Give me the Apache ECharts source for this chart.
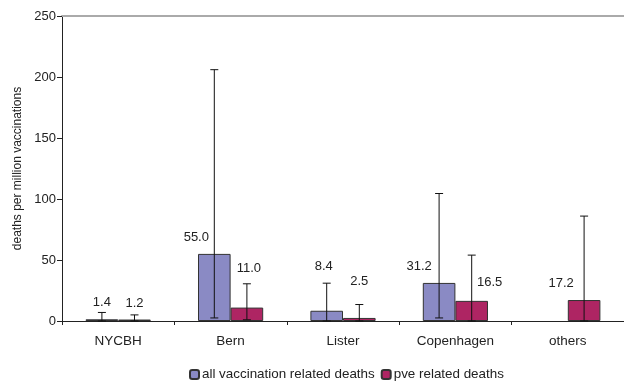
<!DOCTYPE html>
<html><head><meta charset="utf-8">
<script src="https://cdn.jsdelivr.net/npm/echarts@6/dist/echarts.min.js"></script>
<style>html,body{margin:0;padding:0;background:#fff}#c{width:624px;height:381px}</style>
</head><body><div id="c"></div>
<script>
var categories = ['NYCBH', 'Bern', 'Lister', 'Copenhagen', 'others'];
var allDeaths = [1.4, 55.0, 8.4, 31.2, null];
var pveDeaths = [1.2, 11.0, 2.5, 16.5, 17.2];
var allUpper = [7, 206, 31, 104.5, null];
var allLower = [0, 2.5, 0, 2.5, null];
var pveUpper = [5, 30.5, 13.5, 54, 86];
var pveLower = [0, 1, 0, 0, 0];
var yTicks = [0, 50, 100, 150, 200, 250];

// label layout (pixel offsets), kept apart from the data
var allLabelOffset = [[0, -10], [-18, -10], [-3, -38], [-20, -10], [0, 0]];
var pveLabelOffset = [[0, -10], [2, -33], [0, -30], [18, -12], [-23, -10]];

var FONT = 'Liberation Sans, Arial, sans-serif';
var BAR_FRAC = 0.29;

function barData(vals, offs) {
  return vals.map(function (v, i) {
    if (v == null) return null;
    return { value: v, label: { offset: offs[i] } };
  });
}

function errSeries(upper, lower, side) {
  var d = upper.map(function (u, i) { return u == null ? null : [i, lower[i], u]; }).filter(function (x) { return x; });
  return {
    type: 'custom', z: 10,
    data: d,
    encode: { x: 0, y: [1, 2] },
    renderItem: function (params, api) {
      var cat = api.value(0);
      var lo = api.coord([cat, api.value(1)]);
      var hi = api.coord([cat, api.value(2)]);
      var bw = api.size([1, 0])[0] * BAR_FRAC;
      var x = lo[0] + side * bw / 2;
      var cap = 4;
      var st = { stroke: '#111', lineWidth: 1 };
      return { type: 'group', children: [
        { type: 'line', shape: { x1: x, y1: lo[1], x2: x, y2: hi[1] }, style: st },
        { type: 'line', shape: { x1: x - cap, y1: hi[1], x2: x + cap, y2: hi[1] }, style: st },
        { type: 'line', shape: { x1: x - cap, y1: lo[1], x2: x + cap, y2: lo[1] }, style: st }
      ]};
    }
  };
}

var chart = echarts.init(document.getElementById('c'));
chart.setOption({
  animation: false,
  textStyle: { fontFamily: FONT },
  grid: { left: 62, right: -4, top: 16, bottom: 60, containLabel: false },
  legend: {
    left: 184, top: 363, itemWidth: 9, itemHeight: 9, itemGap: 6,
    textStyle: { fontFamily: FONT, fontSize: 13.4, color: '#222', padding: [0, 0, 0, -2] },
    data: ['all vaccination related deaths', 'pve related deaths']
  },
  xAxis: [{
    type: 'category', data: categories,
    axisLine: { lineStyle: { color: '#222', width: 1 } },
    axisTick: { show: true, length: 4, lineStyle: { color: '#222' } },
    axisLabel: { fontFamily: FONT, fontSize: 13.5, color: '#222', margin: 13 }
  }, {
    type: 'category', data: categories, position: 'top',
    axisLine: { show: true, lineStyle: { color: '#aaaaaa', width: 2 } },
    axisTick: { show: false }, axisLabel: { show: false }
  }],
  yAxis: {
    type: 'value', min: yTicks[0], max: yTicks[yTicks.length - 1], interval: 50,
    name: 'deaths per million vaccinations', nameLocation: 'middle', nameGap: 37,
    nameTextStyle: { fontFamily: FONT, fontSize: 12, color: '#222' },
    axisLine: { show: true, lineStyle: { color: '#222' } },
    axisTick: { show: true, length: 5, lineStyle: { color: '#222' } },
    axisLabel: { fontFamily: FONT, fontSize: 13, color: '#222', margin: 6 },
    splitLine: { show: false }
  },
  series: [{
    name: 'all vaccination related deaths', type: 'bar', barWidth: '29%', barGap: 0,
    data: barData(allDeaths, allLabelOffset),
    itemStyle: { color: '#8a8ac4', borderColor: '#333', borderWidth: 1 },
    label: { show: true, position: 'top', distance: 0, fontFamily: FONT, fontSize: 13, color: '#222',
      formatter: function (p) { return p.value.toFixed(1); } }
  }, {
    name: 'pve related deaths', type: 'bar', barWidth: '29%', barGap: 0,
    data: barData(pveDeaths, pveLabelOffset),
    itemStyle: { color: '#ae2563', borderColor: '#333', borderWidth: 1 },
    label: { show: true, position: 'top', distance: 0, fontFamily: FONT, fontSize: 13, color: '#222',
      formatter: function (p) { return p.value.toFixed(1); } }
  },
  errSeries(allUpper, allLower, -1),
  errSeries(pveUpper, pveLower, 1)
  ]
});
</script></body></html>
